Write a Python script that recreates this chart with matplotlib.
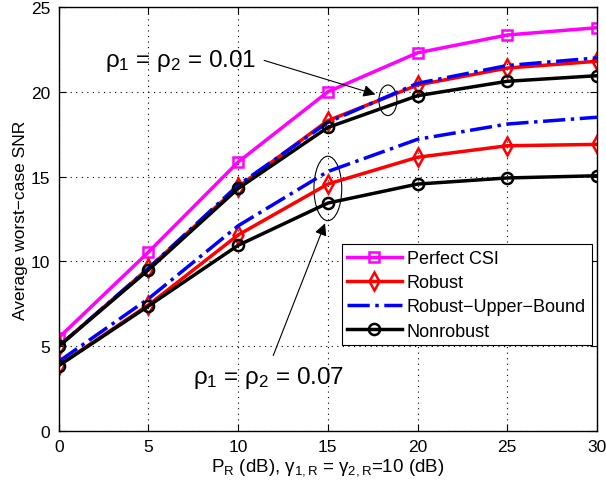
import matplotlib
matplotlib.use('Agg')
import matplotlib.pyplot as plt
from matplotlib.patches import Ellipse

plt.rcParams['font.family'] = ['Liberation Sans', 'DejaVu Sans']
plt.rcParams['mathtext.fontset'] = 'custom'
plt.rcParams['mathtext.rm'] = 'Liberation Sans'
plt.rcParams['mathtext.it'] = 'Liberation Sans'

pr = [0, 5, 10, 15, 20, 25, 30]
perfect = [5.5, 10.55, 15.86, 20.0, 22.3, 23.35, 23.78]
robust_01 = [5.0, 9.6, 14.4, 18.3, 20.4, 21.4, 21.8]
rub_01 = [5.0, 9.6, 14.5, 18.2, 20.5, 21.55, 22.0]
nonrob_01 = [5.0, 9.5, 14.3, 17.9, 19.77, 20.62, 20.95]
robust_07 = [3.88, 7.43, 11.56, 14.56, 16.14, 16.82, 16.9]
rub_07 = [4.1, 7.8, 12.1, 15.3, 17.2, 18.1, 18.5]
nonrob_07 = [3.85, 7.37, 10.95, 13.44, 14.56, 14.92, 15.05]

fig = plt.figure(figsize=(6.06, 4.89), dpi=100)
ax = fig.add_axes([0.097, 0.1166, 0.888, 0.867])

lw = 2.5
ax.plot(pr, perfect, color='magenta', lw=lw, marker='s', ms=7, mfc='none', mew=1.8, label='Perfect CSI')
ax.plot(pr, robust_01, color='red', lw=lw, marker='d', ms=9, mfc='none', mew=1.8, label='Robust')
ax.plot(pr, rub_01, color='blue', lw=lw, ls='-.', label='Robust\u2212Upper\u2212Bound')
ax.plot(pr, nonrob_01, color='black', lw=lw, marker='o', ms=8, mfc='none', mew=1.8, label='Nonrobust')
ax.plot(pr, robust_07, color='red', lw=lw, marker='d', ms=9, mfc='none', mew=1.8)
ax.plot(pr, rub_07, color='blue', lw=lw, ls='-.')
ax.plot(pr, nonrob_07, color='black', lw=lw, marker='o', ms=8, mfc='none', mew=1.8)

ax.add_patch(Ellipse((18.35, 19.5), 1.0, 1.8, fill=False, lw=0.8, ec='black'))
ax.add_patch(Ellipse((15.0, 14.3), 1.55, 3.8, fill=False, lw=0.8, ec='black'))

ax.annotate('', xy=(17.8, 19.8), xytext=(11.3, 21.9),
            arrowprops=dict(arrowstyle='-|>', color='black', lw=0.8, mutation_scale=18))
ax.annotate('', xy=(14.9, 12.4), xytext=(11.9, 4.3),
            arrowprops=dict(arrowstyle='-|>', color='black', lw=0.8, mutation_scale=18))
ax.text(2.6, 21.9, r'$\rho_1$ = $\rho_2$ = 0.01', fontsize=17.5, va='center', ha='left')
ax.text(7.5, 3.2, r'$\rho_1$ = $\rho_2$ = 0.07', fontsize=17.5, va='center', ha='left')

ax.set_xlim(0, 30)
ax.set_ylim(0, 25)
ax.set_xticks([0, 5, 10, 15, 20, 25, 30])
ax.set_yticks([0, 5, 10, 15, 20, 25])
ax.tick_params(direction='in', labelsize=12.5, top=True, right=True, length=5, pad=6)
ax.grid(True, color='black', lw=0.8, dashes=(1, 4))
for s in ax.spines.values():
    s.set_linewidth(1.0)
ax.set_xlabel(r'P$_\mathrm{R}$ (dB), $\gamma_{1,R}$ = $\gamma_{2,R}$=10 (dB)', fontsize=13.5, labelpad=1)
ax.set_ylabel('Average worst\u2212case SNR', fontsize=12.5, labelpad=2)

leg = ax.legend(loc='lower right', bbox_to_anchor=(0.99, 0.203), fontsize=13, fancybox=False,
                edgecolor='black', framealpha=1, borderpad=0.3, handlelength=3,
                labelspacing=0.4, handletextpad=0.3, borderaxespad=0)
leg.get_frame().set_linewidth(0.8)

fig.savefig('out.png', dpi=100)
